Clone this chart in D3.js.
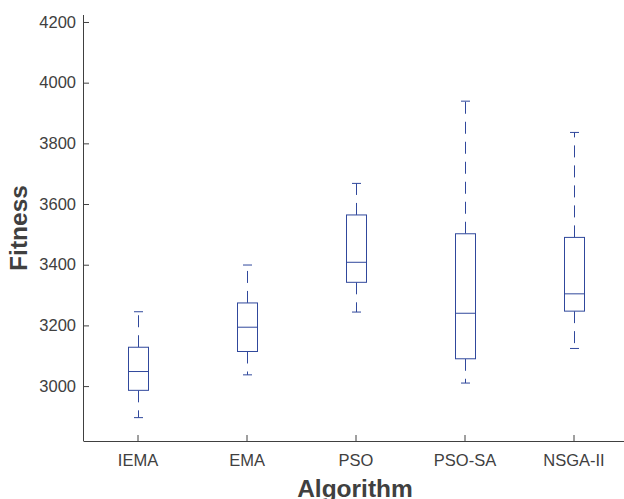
<!DOCTYPE html>
<meta charset="utf-8">
<html>
<head>
  <title>Fitness by algorithm</title>
  <style>
    body { margin: 0; background: #fff; }
    svg { display: block; }
  </style>
</head>
<body>

  <svg id="my_dataviz" width="624" height="499"></svg>

  <script src="https://d3js.org/d3.v7.min.js"></script>
  <script>

    // Box data
    var algorithms = ["IEMA", "EMA", "PSO", "PSO-SA", "NSGA-II"];
    var lowerWhisker = [2896, 3037, 3244, 3010, 3124];
    var q1 = [2986, 3114, 3342, 3090, 3247];
    var median = [3048, 3194, 3408, 3240, 3304];
    var q3 = [3128, 3274, 3564, 3502, 3490];
    var upperWhisker = [3245, 3399, 3668, 3939, 3836];
    var yTicks = [3000, 3200, 3400, 3600, 3800, 4000, 4200];

    var svg = d3.select("svg"),
      width = +svg.attr("width"),
      height = +svg.attr("height");

    // plot area (note: "top" is a reserved global in browsers)
    var plotLeft = 83.5, plotRight = 628.5, plotTop = 15, plotBottom = 441;
    var blue = "#30489c";
    var axisColor = "#404040";
    var font = "'Liberation Sans', Arial, Helvetica, sans-serif";

    var x = d3.scaleBand()
      .domain(algorithms)
      .range([plotLeft, plotRight]);

    var y = d3.scaleLinear()
      .domain([2819, 4223])
      .range([plotBottom, plotTop]);

    var boxes = algorithms.map(function (a, i) {
      return { name: a, lo: lowerWhisker[i], q1: q1[i], med: median[i], q3: q3[i], hi: upperWhisker[i] };
    });

    var cx = function (d) { return Math.round(x(d.name) + x.bandwidth() / 2) + 0.5 };
    var boxHalf = 10, capHalf = 4.5;

    // Y axis, ticks pointing inward
    var yAxis = svg.append("g")
      .attr("transform", "translate(" + Math.floor(plotLeft) + ",0)")
      .call(d3.axisRight(y).tickValues(yTicks).tickSize(6).tickFormat(d3.format("d")));
    yAxis.select(".domain").attr("d", "M0.5," + plotTop + "V" + plotBottom);
    yAxis.selectAll("text").attr("x", -7).attr("text-anchor", "end");

    // X axis, ticks pointing inward
    var xAxis = svg.append("g")
      .attr("transform", "translate(0," + plotBottom + ")")
      .call(d3.axisTop(x).tickSize(6));
    xAxis.select(".domain").attr("d", "M" + plotLeft + ",0.5H" + plotRight);
    xAxis.selectAll("text").attr("y", 25).attr("dy", 0);

    svg.selectAll(".domain, .tick line").attr("stroke", axisColor);
    svg.selectAll(".tick text")
      .attr("fill", axisColor)
      .style("font-family", font)
      .style("font-size", "16.5px");

    var g = svg.append("g")
      .selectAll("g")
      .data(boxes)
      .enter()
      .append("g");

    // Whiskers (dashed)
    g.append("line")
      .attr("x1", cx).attr("x2", cx)
      .attr("y1", function (d) { return y(d.q3) })
      .attr("y2", function (d) { return y(d.hi) })
      .attr("stroke", blue)
      .style("stroke-dasharray", "12,8");

    g.append("line")
      .attr("x1", cx).attr("x2", cx)
      .attr("y1", function (d) { return y(d.q1) })
      .attr("y2", function (d) { return y(d.lo) })
      .attr("stroke", blue)
      .style("stroke-dasharray", "12,8");

    // Caps
    g.selectAll(".cap")
      .data(function (d) { return [d, d] })
      .enter()
      .append("line")
      .attr("x1", function (d) { return cx(d) - capHalf })
      .attr("x2", function (d) { return cx(d) + capHalf })
      .attr("y1", function (d, i) { return y(i ? d.lo : d.hi) })
      .attr("y2", function (d, i) { return y(i ? d.lo : d.hi) })
      .attr("stroke", blue);

    // Boxes
    g.append("rect")
      .attr("x", function (d) { return cx(d) - boxHalf })
      .attr("width", boxHalf * 2)
      .attr("y", function (d) { return y(d.q3) })
      .attr("height", function (d) { return y(d.q1) - y(d.q3) })
      .attr("fill", "#fff")
      .attr("stroke", blue);

    // Medians
    g.append("line")
      .attr("x1", function (d) { return cx(d) - boxHalf })
      .attr("x2", function (d) { return cx(d) + boxHalf })
      .attr("y1", function (d) { return y(d.med) })
      .attr("y2", function (d) { return y(d.med) })
      .attr("stroke", blue);

    // Axis titles
    svg.append("text")
      .attr("text-anchor", "middle")
      .attr("x", 355)
      .attr("y", 497)
      .style("font-family", font)
      .style("font-weight", "bold")
      .style("font-size", "24.5px")
      .style("fill", axisColor)
      .text("Algorithm");

    svg.append("text")
      .attr("text-anchor", "middle")
      .attr("transform", "translate(27,228) rotate(-90)")
      .style("font-family", font)
      .style("font-weight", "bold")
      .style("font-size", "24.5px")
      .style("fill", axisColor)
      .text("Fitness");

  </script>
</body>
</html>
